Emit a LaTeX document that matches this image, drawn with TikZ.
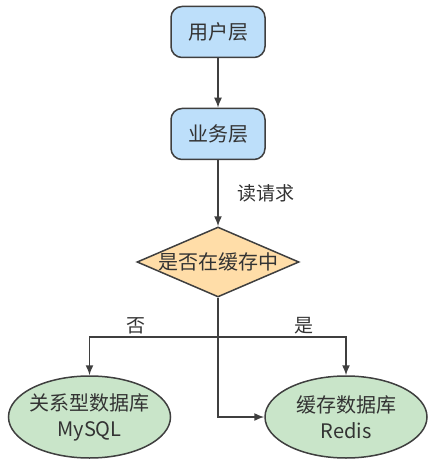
\documentclass[tikz,border=0pt]{standalone}
\usepackage{fontspec}
\setmainfont{Noto Sans CJK SC}
\usetikzlibrary{arrows.meta,shapes.geometric}
\definecolor{layerfill}{HTML}{BDDFFA}
\definecolor{askfill}{HTML}{FFDDA8}
\definecolor{dbfill}{HTML}{C9E5C9}
\definecolor{linegray}{HTML}{3F3F3F}
\definecolor{textgray}{HTML}{333333}
\tikzset{>={Latex[length=10pt,width=8pt]}}
\tikzstyle{layer}=[rectangle,draw=linegray,fill=layerfill,line width=1.5pt,minimum height=51pt,minimum width=94pt,rounded corners=11pt,text=textgray,font=\fontsize{20}{26}\selectfont]
\tikzstyle{ask}=[diamond,draw=linegray,fill=askfill,line width=1.5pt,minimum height=70pt,minimum width=162pt,inner sep=0pt]
\tikzstyle{db}=[ellipse,draw=linegray,fill=dbfill,line width=1.5pt,minimum height=82pt,minimum width=162pt,inner sep=0pt]
\tikzstyle{flow}=[draw=linegray,line width=1.5pt]
\tikzstyle{tag}=[text=textgray,font=\fontsize{19}{24}\selectfont]

\begin{document}
\begin{tikzpicture}[x=1pt,y=-1pt]
	\useasboundingbox (0,0) rectangle (439,470);
	\node[layer] (user) at (218, 32) {用户层};
	\node[layer] (biz) at (218, 134) {业务层};
	\node[ask, label={[tag,font=\fontsize{20}{26}\selectfont]center:是否在缓存中}] (cache) at (218, 262) {};
	\node[db, label={[tag,align=center,font=\fontsize{20}{26}\selectfont]center:关系型数据库\\MySQL}] (mysql) at (89.5, 417) {};
	\node[db, label={[tag,align=center,font=\fontsize{20}{26}\selectfont]center:缓存数据库\\Redis}] (redis) at (346, 417) {};
	\coordinate (split) at (218, 337);
	
	\draw[flow,->] (user) -- (biz);
	\draw[flow,->] (biz) -- node[tag, midway, anchor=west, xshift=15pt] (read) {读请求} (cache);
	\draw[flow] (cache) -- (split);
	\draw[flow,->] (split) -| node[tag, pos=0.32, above, inner sep=2pt] (no) {否} (mysql);
	\draw[flow,->] (split) -| node[tag, pos=0.335, above, inner sep=2pt] (yes) {是} (redis);
	\draw[flow,->] (split) |- (redis.west);
\end{tikzpicture}
\end{document}
